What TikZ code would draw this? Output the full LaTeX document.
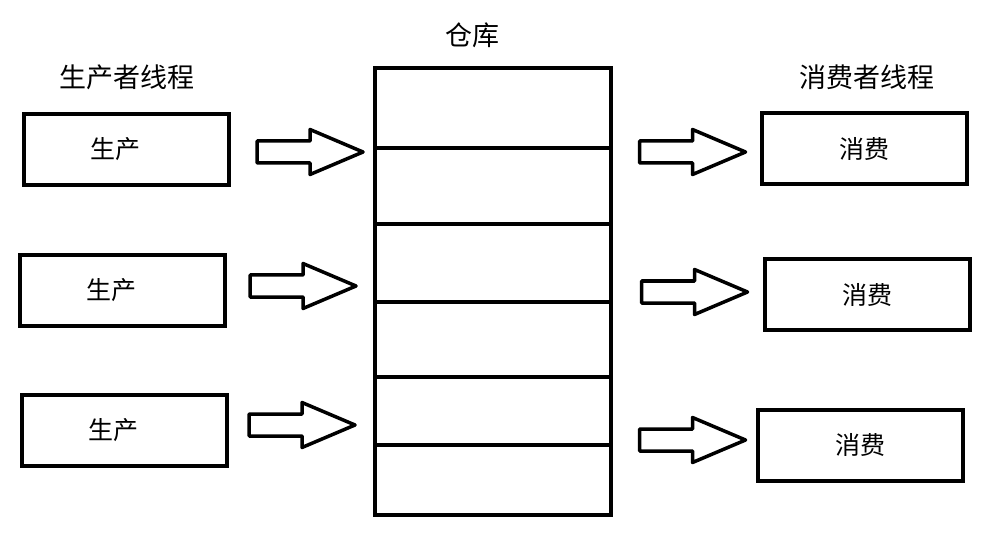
\documentclass[tikz,border=0pt]{standalone}
\usepackage{fontspec}
\newfontfamily\cjk{Noto Sans CJK SC}
\def\pipe#1#2{\coordinate (#1) at (#2);
  \draw[pipe] (#1) ++(-53,-11) -- ++(53,0) -- ++(0,-11.5) -- ++(53,22.5) -- ++(-53,22.5) -- ++(0,-11.5) -- ++(-53,0) -- cycle}
\tikzstyle{box}=[draw,line width=4pt,minimum width=205pt,minimum height=71pt,inner sep=0pt,font=\cjk\fontsize{25}{30}\selectfont]
\tikzstyle{prod}=[box,execute at end node=\hspace{22pt}]
\tikzstyle{cons}=[box]
\tikzstyle{cell}=[draw,line width=4pt,minimum width=236pt,inner sep=0pt]
\tikzstyle{title}=[font=\cjk\fontsize{27}{32}\selectfont,inner sep=0pt]
\tikzstyle{pipe}=[line width=3.5pt,line join=round]

\begin{document}
\begin{tikzpicture}[x=1pt,y=-1pt]
  \useasboundingbox (0,0) rectangle (1007,540);
  % warehouse
  \foreach \i/\t/\b [evaluate=\t as \h using \b-\t, evaluate=\t as \m using (\t+\b)/2] in {1/68/148,2/148/224,3/224/302,4/302/377,5/377/445,6/445/515}
    \node[cell,minimum height=\h pt] (w\i) at (493,\m) {};
  \node[title] (wtitle) at (472,35) {仓库};
  % producers
  \node[title] (ptitle) at (127,77) {生产者线程};
  \node[prod] (p1) at (126.5,149.5) {生产};
  \node[prod] (p2) at (122.5,290.5) {生产};
  \node[prod] (p3) at (124,430) {生产};
  \pipe{pa1}{310,152};
  \pipe{pa2}{303,286};
  \pipe{pa3}{302,425};
  % consumers
  \node[title] (ctitle) at (867,77) {消费者线程};
  \node[cons] (c1) at (864,149) {消费};
  \node[cons] (c2) at (867.5,294.5) {消费};
  \node[cons] (c3) at (860.5,445) {消费};
  \pipe{ca1}{692.5,152};
  \pipe{ca2}{694.5,292};
  \pipe{ca3}{692.5,440};
\end{tikzpicture}
\end{document}
